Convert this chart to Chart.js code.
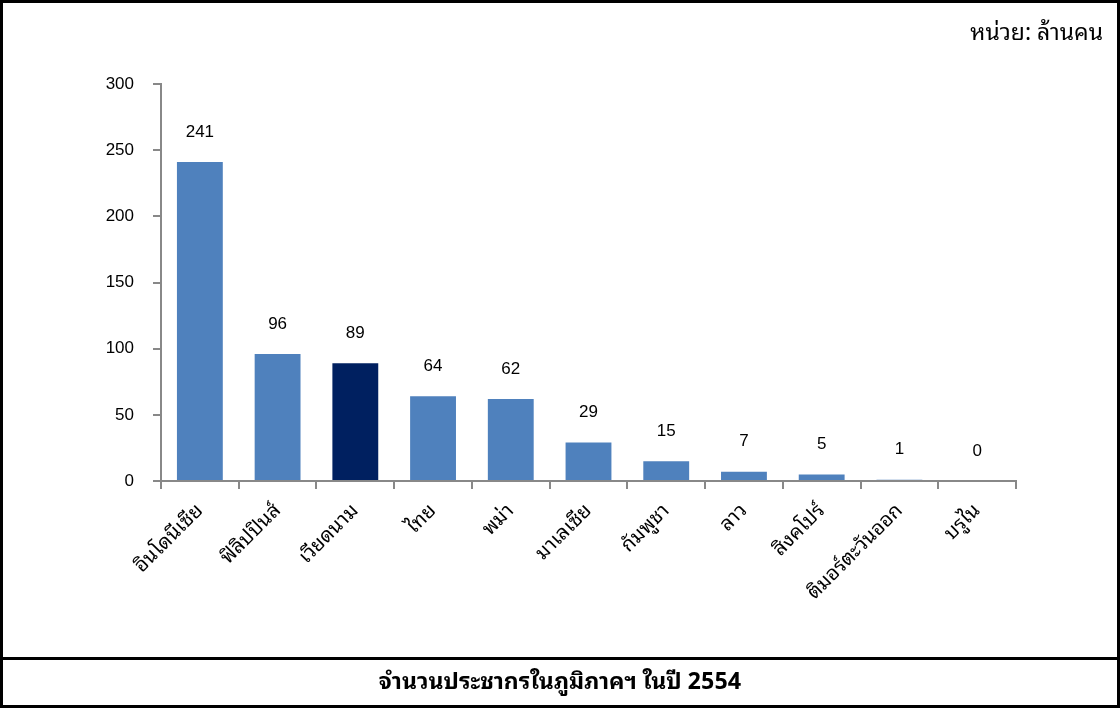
<!DOCTYPE html>
<html>
<head>
<meta charset="utf-8">
<script src="https://cdn.jsdelivr.net/npm/chart.js@4/dist/chart.umd.min.js"></script>
<style>
  body { margin: 0; background: #fff; }
  #frame { position: absolute; left: 0; top: 0; width: 1120px; height: 708px; box-sizing: border-box; border: 3px solid #000; }
  #plot { position: absolute; left: 0; top: 0; width: 1114px; height: 655px; }
  #unit { position: absolute; right: 14px; top: 8px; font: 23px "Noto Sans Thai Looped", Tahoma, "Noto Sans Thai", sans-serif; color: #000; }
  #caption { position: absolute; left: 0; top: 654px; width: 1114px; height: 48px; border-top: 3px solid #000; box-sizing: border-box;
             text-align: center; line-height: 46px; font: bold 23px "Noto Sans Thai Looped", Tahoma, "Noto Sans Thai", sans-serif; color: #000; }
</style>
</head>
<body>
<div id="frame">
  <div id="plot"><canvas id="popChart"></canvas></div>
  <div id="unit">หน่วย: ล้านคน</div>
  <div id="caption">จำนวนประชากรในภูมิภาคฯ ในปี 2554</div>
</div>
<script>
// ประชากรแต่ละประเทศ (ล้านคน)
const countries = ['อินโดนีเซีย', 'ฟิลิปปินส์', 'เวียดนาม', 'ไทย', 'พม่า', 'มาเลเซีย', 'กัมพูชา', 'ลาว', 'สิงคโปร์', 'ติมอร์ตะวันออก', 'บรูไน'];
const population = [241, 96, 89, 64, 62, 29, 15, 7, 5, 1, 0];
const yTicks = [0, 50, 100, 150, 200, 250, 300];
const highlight = 'เวียดนาม';

const barColors = countries.map(c => c === highlight ? '#002060' : '#4F81BD');

// เขียนตัวเลขไว้เหนือแท่ง
const valueLabels = {
    id: 'valueLabels',
    afterDatasetsDraw(chart) {
        const ctx = chart.ctx;
        const meta = chart.getDatasetMeta(0);
        ctx.save();
        ctx.font = '17px "Liberation Sans", Arial, sans-serif';
        ctx.fillStyle = '#000';
        ctx.textAlign = 'center';
        ctx.textBaseline = 'middle';
        meta.data.forEach((bar, i) => {
            ctx.fillText(population[i], bar.x, bar.y - 30);
        });
        ctx.restore();
    }
};

const ctx = document.getElementById('popChart').getContext('2d');
new Chart(ctx, {
    type: 'bar',
    data: {
        labels: countries,
        datasets: [{
            data: population,
            backgroundColor: barColors,
            borderWidth: 0,
            barPercentage: 0.59,
            categoryPercentage: 1
        }]
    },
    options: {
        responsive: true,
        maintainAspectRatio: false,
        animation: false,
        layout: { padding: { top: 81, right: 101, left: 0, bottom: 0 } },
        plugins: {
            legend: { display: false },
            tooltip: { enabled: false }
        },
        scales: {
            x: {
                grid: { display: true, drawOnChartArea: false, offset: true, tickLength: 8, color: '#888', lineWidth: 2 },
                border: { color: '#888', width: 2 },
                ticks: {
                    autoSkip: false,
                    minRotation: 45,
                    maxRotation: 45,
                    padding: 10,
                    color: '#000',
                    font: { family: '"Noto Sans Thai Looped", Tahoma, "Noto Sans Thai", sans-serif', size: 20 }
                },
                afterFit: function(scale) { scale.height = 177; }
            },
            y: {
                min: 0,
                max: 300,
                afterBuildTicks: function(scale) { scale.ticks = yTicks.map(v => ({ value: v })); },
                grid: { display: true, drawOnChartArea: false, tickLength: 8, color: '#888', lineWidth: 2 },
                border: { color: '#888', width: 2 },
                ticks: {
                    padding: 19,
                    color: '#000',
                    font: { family: '"Liberation Sans", Arial, sans-serif', size: 17 }
                },
                afterFit: function(scale) { scale.width = 158; }
            }
        }
    },
    plugins: [valueLabels]
});
</script>
</body>
</html>
